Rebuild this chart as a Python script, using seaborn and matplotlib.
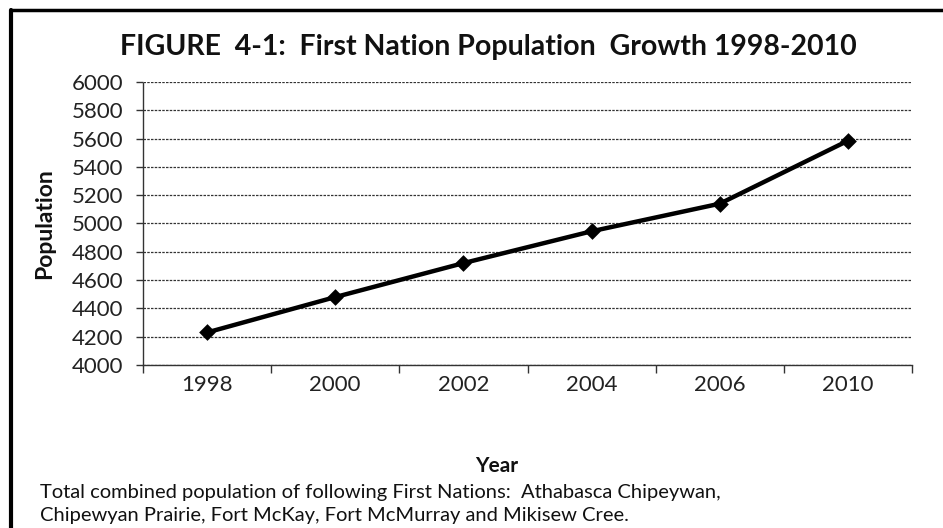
import matplotlib
matplotlib.use("Agg")
import matplotlib.pyplot as plt
from matplotlib.lines import Line2D
import seaborn as sns
import pandas as pd

years = ["1998", "2000", "2002", "2004", "2006", "2010"]
population = [4230, 4480, 4720, 4945, 5140, 5585]
y_ticks = [4000, 4200, 4400, 4600, 4800, 5000, 5200, 5400, 5600, 5800, 6000]

title = "FIGURE  4-1:  First Nation Population  Growth 1998-2010"
caption = ("Total combined population of following First Nations:  Athabasca Chipeywan,\n"
           "Chipewyan Prairie, Fort McKay, Fort McMurray and Mikisew Cree.")

sns.set_theme(style="white")
plt.rcParams["font.family"] = ["Lato", "DejaVu Sans"]

df = pd.DataFrame({"Year": years, "Population": population})

fig = plt.figure(figsize=(9.43, 5.28), dpi=100)
ax = fig.add_axes([143/943, 1 - 365/528, (912 - 143)/943, (365 - 82)/528])

sns.pointplot(data=df, x="Year", y="Population", color="black",
              markers="D", markersize=6, linewidth=3.2, ax=ax, errorbar=None)

ax.set_xlim(-0.5, len(years) - 0.5)
ax.set_ylim(4000, 6000)
ax.set_yticks(y_ticks)
ax.set_yticklabels([str(v) for v in y_ticks], fontsize=16, color="#222222")
ax.set_xticks(range(len(years)))
ax.set_xticklabels(years, fontsize=16, color="#222222")
ax.tick_params(axis="x", which="major", length=0, pad=7)
ax.set_xticks([i - 0.5 for i in range(len(years) + 1)], minor=True)
ax.tick_params(axis="x", which="minor", length=6, width=1, color="#333333", direction="out")
ax.tick_params(axis="y", which="major", length=5, width=1, color="#333333", direction="out", pad=9)
ax.yaxis.set_ticks_position("left")
ax.xaxis.set_ticks_position("bottom")

ax.grid(axis="y", color="#333333", linewidth=0.9, linestyle=(0, (2, 1)))
ax.set_axisbelow(True)
for side in ["top", "right"]:
    ax.spines[side].set_visible(False)
ax.spines["left"].set_color("#333333")
ax.spines["left"].set_linestyle((0, (2, 1)))
ax.spines["bottom"].set_color("#333333")
ax.spines["left"].set_linewidth(1.0)
ax.spines["bottom"].set_linewidth(1.0)

ax.set_xlabel("")
ax.set_ylabel("")
fig.text(45/943, 1 - 224/528, "Population", rotation=90, ha="center", va="center",
         fontsize=16.5, fontweight="bold", color="#111111")

fig.text(488/943, 1 - 47/528, title, ha="center", va="center",
         fontsize=20.5, fontweight="bold", color="#111111")
fig.text(497/943, 1 - 466/528, "Year", ha="center", va="center",
         fontsize=15, fontweight="bold", color="#111111")
fig.text(40/943, 1 - 504/528, caption, ha="left", va="center",
         fontsize=14.5, color="#111111", linespacing=1.4)

# Outer frame lines (left and top)
fig.add_artist(Line2D([11/943, 11/943], [0, 1 - 10/528], transform=fig.transFigure,
                      color="black", linewidth=3))
fig.add_artist(Line2D([11/943, 1], [1 - 10/528, 1 - 10/528], transform=fig.transFigure,
                      color="black", linewidth=2.5))

fig.savefig("out.png", dpi=100)
